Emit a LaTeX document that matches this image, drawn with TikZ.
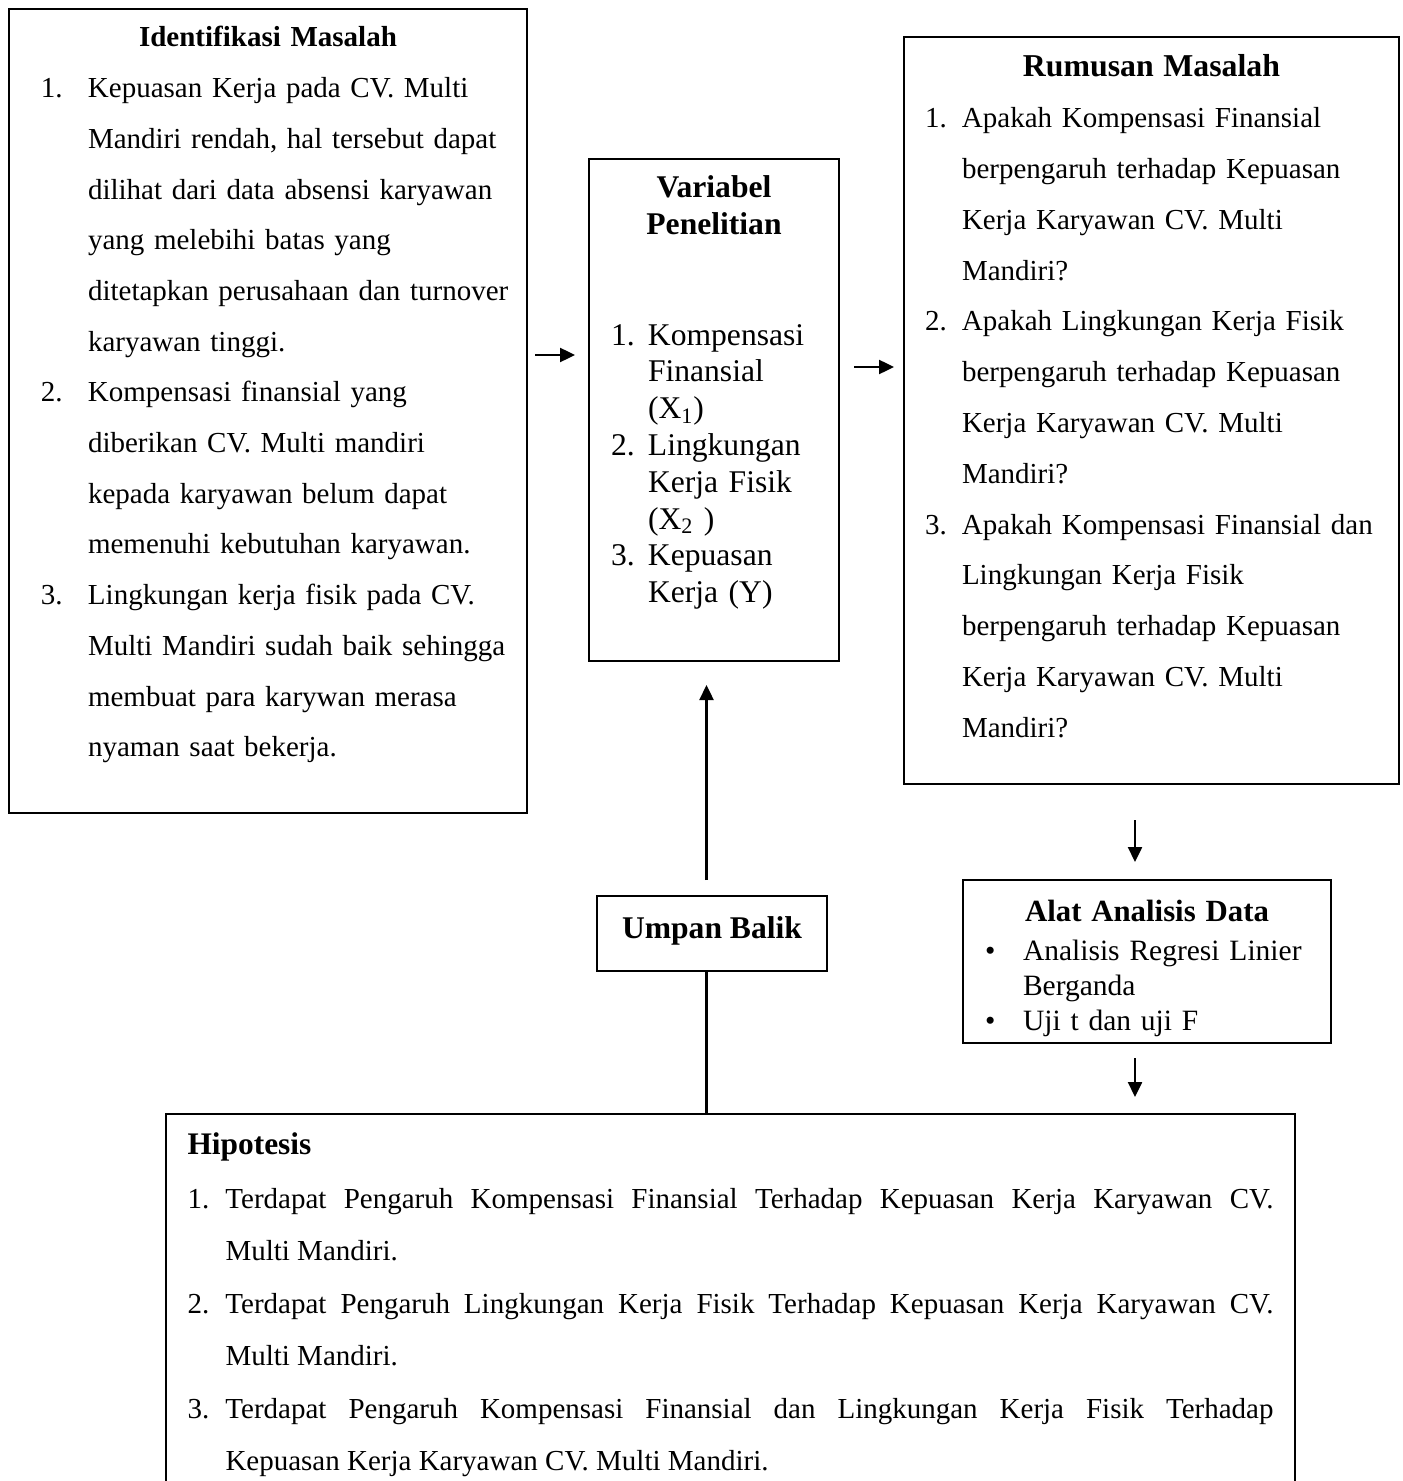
\documentclass[tikz,border=0pt]{standalone}
\usepackage{fontspec}
\setmainfont{Liberation Serif}
\usetikzlibrary{arrows.meta,positioning}

% numbered / bulleted line with hanging indent
\newcommand{\itm}[3]{\par\hangindent=#2\hangafter=1\noindent\hspace*{#1}\makebox[\dimexpr#2-#1\relax][l]{#3}\ignorespaces}

\begin{document}
\begin{tikzpicture}[x=0.5pt,y=-0.5pt,>={Triangle[length=7.5pt,width=7pt]},
	block/.style={draw,line width=1pt,anchor=north west,inner ysep=0pt,align=left},
	arr/.style={->,line width=1.2pt}]
	\useasboundingbox (0,0) rectangle (1402,1481);

	\node[block,inner xsep=7pt,text width=245pt,text height=19pt,text depth=383pt,
		font=\fontsize{14.5pt}{25.35pt}\selectfont] (ident) at (8,8) {%
		{\centering\bfseries Identifikasi Masalah\par}
		\itm{9pt}{32.5pt}{1.}Kepuasan Kerja pada CV. Multi\newline
		Mandiri rendah, hal tersebut dapat\newline
		dilihat dari data absensi karyawan\newline
		yang melebihi batas yang\newline
		ditetapkan perusahaan dan turnover\newline
		karyawan tinggi.
		\itm{9pt}{32.5pt}{2.}Kompensasi finansial yang\newline
		diberikan CV. Multi mandiri\newline
		kepada karyawan belum dapat\newline
		memenuhi kebutuhan karyawan.
		\itm{9pt}{32.5pt}{3.}Lingkungan kerja fisik pada CV.\newline
		Multi Mandiri sudah baik sehingga\newline
		membuat para karywan merasa\newline
		nyaman saat bekerja.\par};

	\node[block,inner xsep=11pt,text width=103pt,text height=19.5pt,text depth=231.5pt,
		font=\fontsize{15.8pt}{18.4pt}\selectfont] (varbl) at (588,158) {%
		{\centering\bfseries Variabel\\ Penelitian\par}
		\vspace{36.8pt}
		\itm{0pt}{18.5pt}{1.}Kompensasi\newline Finansial\newline (X\textsubscript{1})
		\itm{0pt}{18.5pt}{2.}Lingkungan\newline Kerja Fisik\newline (X\textsubscript{2}\ )
		\itm{0pt}{18.5pt}{3.}Kepuasan\newline Kerja (Y)\par};

	\node[block,inner xsep=6pt,text width=235.5pt,text height=20pt,text depth=353.5pt,
		font=\fontsize{14.5pt}{25.4pt}\selectfont] (rumus) at (903,36) {%
		{\centering\bfseries\fontsize{15.9pt}{25.4pt}\selectfont Rumusan Masalah\par}
		\itm{4.5pt}{23pt}{1.}Apakah Kompensasi Finansial\newline
		berpengaruh terhadap Kepuasan\newline
		Kerja Karyawan CV. Multi\newline
		Mandiri?
		\itm{4.5pt}{23pt}{2.}Apakah Lingkungan Kerja Fisik\newline
		berpengaruh terhadap Kepuasan\newline
		Kerja Karyawan CV. Multi\newline
		Mandiri?
		\itm{4.5pt}{23pt}{3.}Apakah Kompensasi Finansial dan\newline
		Lingkungan Kerja Fisik\newline
		berpengaruh terhadap Kepuasan\newline
		Kerja Karyawan CV. Multi\newline
		Mandiri?\par};

	\node[block,inner xsep=0pt,minimum width=115pt,text height=21pt,text depth=16.5pt,align=center,
		font=\bfseries\fontsize{15.8pt}{18pt}\selectfont] (umpan) at (596,895) {Umpan Balik};

	\node[block,inner xsep=6pt,text width=172pt,text height=20.5pt,text depth=61pt,
		font=\fontsize{14.75pt}{17.5pt}\selectfont] (alat) at (962,879) {%
		{\centering\bfseries\fontsize{15.4pt}{17.5pt}\selectfont Alat Analisis Data\par}
		\vspace{2pt}
		\itm{5pt}{24pt}{\textbullet}Analisis Regresi Linier\newline Berganda
		\itm{5pt}{24pt}{\textbullet}Uji t dan uji F\par};

	\node[block,inner xsep=10.75pt,text width=543pt,text height=20pt,text depth=166pt,align=justify,
		font=\fontsize{14.5pt}{26.2pt}\selectfont] (hipo) at (165,1113) {%
		\tolerance=10000
		{\bfseries\fontsize{15.7pt}{26.2pt}\selectfont Hipotesis\par}
		\vspace{1pt}
		\itm{0pt}{19pt}{1.}Terdapat Pengaruh Kompensasi Finansial Terhadap Kepuasan Kerja Karyawan CV.\linebreak
		Multi Mandiri.
		\itm{0pt}{19pt}{2.}Terdapat Pengaruh Lingkungan Kerja Fisik Terhadap Kepuasan Kerja Karyawan CV.\linebreak
		Multi Mandiri.
		\itm{0pt}{19pt}{3.}Terdapat Pengaruh Kompensasi Finansial dan Lingkungan Kerja Fisik Terhadap\linebreak
		Kepuasan Kerja Karyawan CV. Multi Mandiri.\par};

	\coordinate (rowA) at (0,355);
	\coordinate (rowB) at (0,367);
	\coordinate (colC) at (1135,0);
	\coordinate (colF) at (706.5,0);

	\draw[arr,shorten <=3.5pt,shorten >=6.5pt] (ident.east |- rowA) -- (varbl.west |- rowA);
	\draw[arr,shorten <=7pt,shorten >=4.5pt] (varbl.east |- rowB) -- (rumus.west |- rowB);
	\draw[arr,shorten <=17.5pt,shorten >=8.5pt] (rumus.south -| colC) -- (alat.north -| colC);
	\draw[arr,shorten <=7pt,shorten >=8pt] (alat.south -| colC) -- (hipo.north -| colC);
	\draw[arr,shorten <=7.5pt,shorten >=11.5pt] (umpan.north -| colF) -- (varbl.south -| colF);
	\draw[line width=1.2pt] (hipo.north -| colF) -- (umpan.south -| colF);
\end{tikzpicture}
\end{document}
